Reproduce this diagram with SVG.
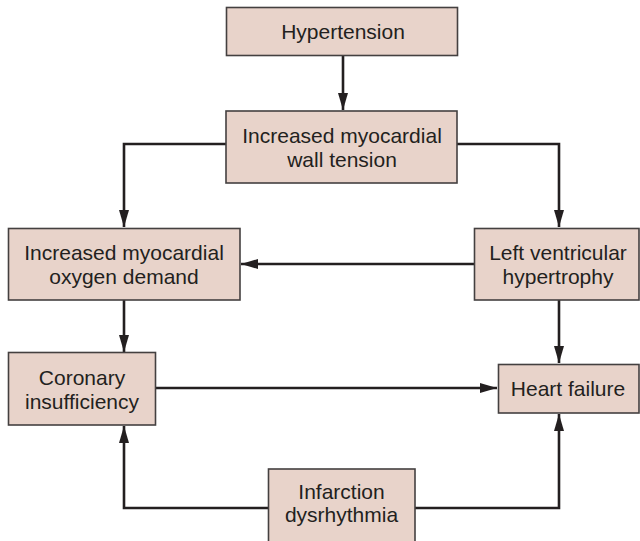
<svg xmlns="http://www.w3.org/2000/svg" width="640" height="541" viewBox="0 0 640 541">
  <style>
    .box { fill: #e8d3ca; stroke: #444040; stroke-width: 1.6; }
    .lbl { font-family: "Liberation Sans", Arial, sans-serif; font-size: 21px; fill: #231f20; text-anchor: middle; }
    .wire { fill: none; stroke: #231f20; stroke-width: 2.6; }
  </style>
  <defs>
    <marker id="head" markerUnits="userSpaceOnUse" markerWidth="18" markerHeight="11" refX="17" refY="5" orient="auto">
      <path d="M0,0 L17,5 L0,10 Z" fill="#231f20"/>
    </marker>
  </defs>
  <rect width="640" height="541" fill="#ffffff"/>

  <g id="connectors">
    <path class="wire" d="M343,56 V110" marker-end="url(#head)"/>
    <path class="wire" d="M226,144 H124 V227" marker-end="url(#head)"/>
    <path class="wire" d="M457,144 H559 V227" marker-end="url(#head)"/>
    <path class="wire" d="M474,264 H241" marker-end="url(#head)"/>
    <path class="wire" d="M124,300 V352" marker-end="url(#head)"/>
    <path class="wire" d="M559,300 V363" marker-end="url(#head)"/>
    <path class="wire" d="M156,388 H497" marker-end="url(#head)"/>
    <path class="wire" d="M268,508 H124 V426" marker-end="url(#head)"/>
    <path class="wire" d="M415,508 H559 V414" marker-end="url(#head)"/>
  </g>

  <g id="hypertension">
    <rect class="box" x="226.5" y="7.5" width="231" height="48"/>
    <text class="lbl" x="343" y="38.5">Hypertension</text>
  </g>

  <g id="wall-tension">
    <rect class="box" x="226" y="111" width="231" height="72"/>
    <text class="lbl" x="342" y="142.5">Increased myocardial</text>
    <text class="lbl" x="342" y="166.5">wall tension</text>
  </g>

  <g id="oxygen-demand">
    <rect class="box" x="8.5" y="228.5" width="231.5" height="71.5"/>
    <text class="lbl" x="124" y="259.5">Increased myocardial</text>
    <text class="lbl" x="124" y="283.5">oxygen demand</text>
  </g>

  <g id="lv-hypertrophy">
    <rect class="box" x="474.5" y="228.5" width="164.5" height="71.5"/>
    <text class="lbl" x="558" y="259.5">Left ventricular</text>
    <text class="lbl" x="558" y="283.5">hypertrophy</text>
  </g>

  <g id="coronary-insufficiency">
    <rect class="box" x="8.5" y="352.5" width="147" height="72.5"/>
    <text class="lbl" x="82" y="385">Coronary</text>
    <text class="lbl" x="82" y="408.5">insufficiency</text>
  </g>

  <g id="heart-failure">
    <rect class="box" x="498.5" y="364.5" width="140.5" height="48.5"/>
    <text class="lbl" x="568" y="396">Heart failure</text>
  </g>

  <g id="infarction">
    <rect class="box" x="268.5" y="469" width="146.5" height="80"/>
    <text class="lbl" x="341.5" y="498.5">Infarction</text>
    <text class="lbl" x="341.5" y="522">dysrhythmia</text>
  </g>
</svg>
